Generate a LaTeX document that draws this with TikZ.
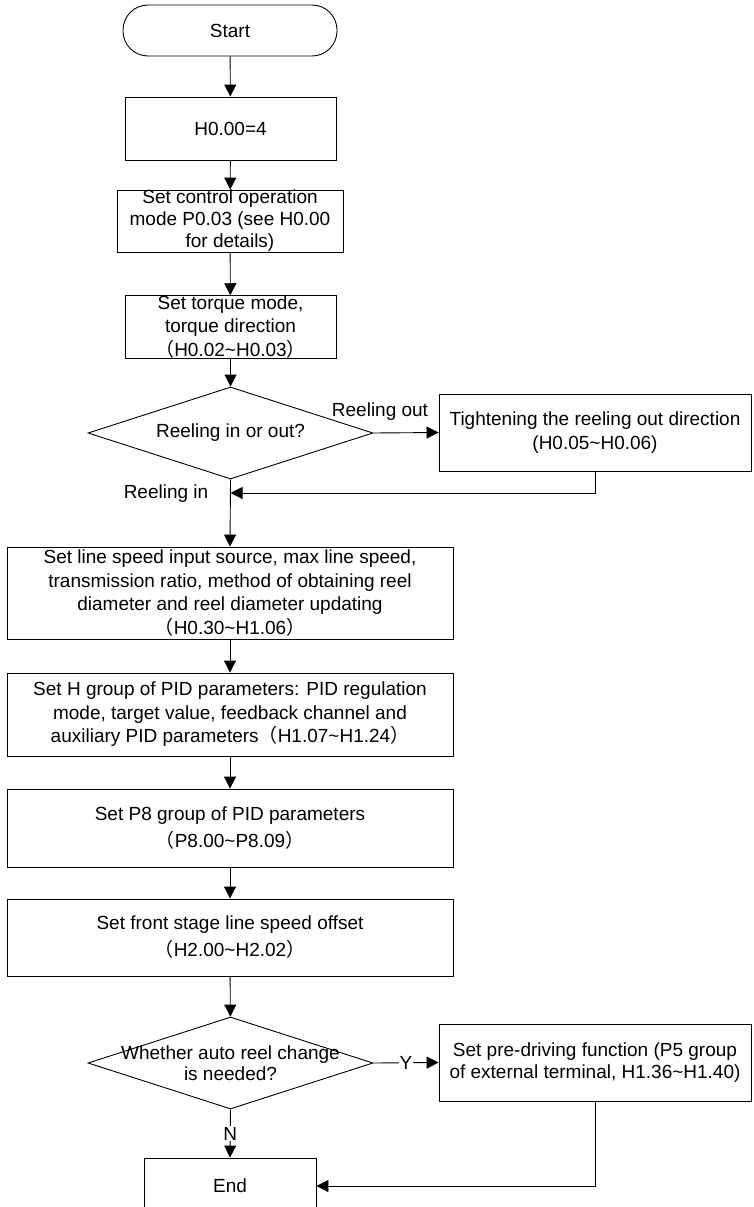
\documentclass[tikz,border=0pt]{standalone}
\usepackage{fontspec}
\setmainfont{Liberation Sans}
\newfontfamily\cjk{Noto Sans CJK SC}
\usetikzlibrary{arrows.meta, shapes.geometric, calc}

% full-width brackets as in the original
\newcommand{\fwl}{{\cjk （}}
\newcommand{\fwr}{{\cjk ）}}

\begin{document}
\begin{tikzpicture}[x=1pt, y=-1pt, line width=0.9pt,
  box/.style={draw, rectangle, align=center, inner sep=0pt, font=\fontsize{19}{23.5}\selectfont},
  wide/.style={box, minimum width=446pt},
  decision/.style={draw, diamond, minimum width=285pt, minimum height=92pt, inner sep=0pt},
  flow/.style={-{Triangle[length=12pt,width=12pt]}},
  tag/.style={font=\fontsize{19}{21.5}\selectfont, align=center, inner sep=1pt}]

\useasboundingbox (0,0) rectangle (754,1207);

% main column
\node[box, rounded corners=25pt, minimum width=214pt, minimum height=51pt] (start) at (230,30.5) {Start};
\node[box, minimum width=211pt, minimum height=63pt] (h000) at (230.5,128.5) {H0.00=4};
\node[box, minimum width=226pt, minimum height=62pt, font=\fontsize{19}{22}\selectfont] (mode) at (230,221)
  {Set control operation\\mode P0.03 (see H0.00\\for details)};
\node[box, minimum width=211pt, minimum height=62pt] (torque) at (230.5,327)
  {Set torque mode,\\torque direction\\\fwl H0.02\textasciitilde H0.03\fwr};
\node[decision, label={[tag]center:Reeling in or out?}] (reel) at (230.5,433) {};
\node[box, minimum width=312pt, minimum height=77pt] (tight) at (595,432.5)
  {Tightening the reeling out direction\\(H0.05\textasciitilde H0.06)};
\coordinate (join) at (230.5,493);

\node[wide, minimum height=92pt] (line) at (230,593)
  {Set line speed input source, max line speed,\\transmission ratio, method of obtaining reel\\diameter and reel diameter updating\\\fwl H0.30\textasciitilde H1.06\fwr};
\node[wide, minimum height=83pt] (hpid) at (230,714.5)
  {Set H group of PID parameters: PID regulation\\mode, target value, feedback channel and\\auxiliary PID parameters\fwl H1.07\textasciitilde H1.24\fwr};
\node[wide, minimum height=78pt, font=\fontsize{19}{27}\selectfont] (p8) at (230,828)
  {Set P8 group of PID parameters\\\fwl P8.00\textasciitilde P8.09\fwr};
\node[wide, minimum height=77pt, font=\fontsize{19}{27}\selectfont] (offset) at (230,937.5)
  {Set front stage line speed offset\\\fwl H2.00\textasciitilde H2.02\fwr};

\node[decision, label={[tag]center:Whether auto reel change\\is needed?}] (auto) at (230.5,1063) {};
\node[box, minimum width=312pt, minimum height=77pt, font=\fontsize{19}{22}\selectfont] (pre) at (595,1062.5)
  {Set pre-driving function (P5 group\\of external terminal, H1.36\textasciitilde H1.40)};
\node[box, minimum width=172pt, minimum height=56pt] (end) at (230,1186) {End};

% connectors
\draw[flow] (start) -- (h000);
\draw[flow] (h000) -- (mode);
\draw[flow] (mode) -- (torque);
\draw[flow] (torque) -- (reel);
\draw[flow] (reel.east) -- (tight.west);
\node[tag] (outlab) at (380,412) {Reeling out};
\draw[flow] (tight.south) |- (join);
\node[tag] (inlab) at (166,494) {Reeling in};
\draw[flow] (reel.south) -- (line.north);
\draw[flow] (line) -- (hpid);
\draw[flow] (hpid) -- (p8);
\draw[flow] (p8) -- (offset);
\draw[flow] (offset) -- (auto);
\draw[flow] (auto.east) -- node[tag, fill=white] (ylab) {Y} (pre.west);
\draw[flow] (auto.south) -- node[tag, fill=white] (nlab) {N} (end.north);
\draw[flow] (pre.south) |- (end.east);

\end{tikzpicture}
\end{document}
